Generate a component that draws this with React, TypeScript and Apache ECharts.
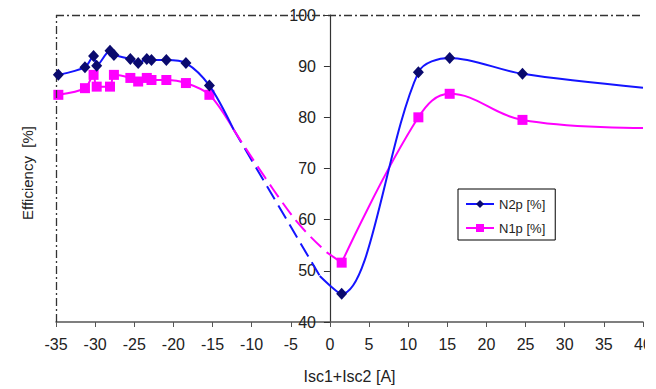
import React, { useEffect, useRef } from "react";
import * as echarts from "echarts";

// ---- Data ----
const leftX = [-34.7, -31.3, -30.2, -29.8, -28.1, -27.6, -25.5, -24.5, -23.4, -22.8, -20.9, -18.4, -15.4];
const n2pLeftY = [88.3, 89.8, 92.0, 90.1, 93.0, 92.2, 91.4, 90.6, 91.4, 91.2, 91.2, 90.6, 86.2];
const n1pLeftY = [84.4, 85.7, 88.3, 86.0, 86.0, 88.3, 87.7, 87.0, 87.7, 87.3, 87.3, 86.7, 84.4];

// end of the solid left part (no marker)
const joinX = -12.3;
const joinY = 77.6;

// dashed extrapolated part (no markers)
const n2pDashX = [-12.3, -1.3];
const n2pDashY = [77.6, 49.0];
const n1pDashX = [-12.3, -4.7, -0.4];
const n1pDashY = [77.6, 60.5, 53.6];

// right measured part
const rightX = [1.5, 11.3, 15.3, 24.6];
const n2pRightY = [45.5, 88.8, 91.6, 88.5];
const n1pRightY = [51.6, 80.0, 84.6, 79.5];

// curve value at the right border (no marker)
const endX = 40;
const n2pEndY = 85.8;
const n1pEndY = 77.9;

const xTicksMin = -35;
const xTicksMax = 40;
const yMin = 40;
const yMax = 100;

const N2P = "N2p [%]";
const N1P = "N1p [%]";

const FONT = "'Liberation Sans', Arial, Helvetica, sans-serif";

const GRID_LEFT = 56;
const GRID_WIDTH = 587;

function zip(xs: number[], ys: number[]) {
  return xs.map((x, i) => [x, ys[i]]);
}
function hidden(x: number, y: number) {
  return { value: [x, y], symbol: "none" };
}
function last(a: number[]) {
  return a[a.length - 1];
}

export default function App() {
  const ref = useRef<HTMLDivElement>(null);

  useEffect(() => {
    if (!ref.current) return;
    const chart = echarts.init(ref.current, null, { renderer: "svg" });

    const blueLine = { color: "#1414ff", width: 2 };
    const pinkLine = { color: "#ff00ff", width: 2 };
    const blueItem = { color: "#0a0a6e" };
    const pinkItem = { color: "#ff00ff" };

    // y axis sits at x = 0 of the value axis
    const yAxisOffset = -((0 - xTicksMin) / (xTicksMax - xTicksMin)) * GRID_WIDTH;

    const option: any = {
      animation: false,
      backgroundColor: "#ffffff",
      textStyle: { fontFamily: FONT },
      grid: { left: GRID_LEFT, top: 15, width: GRID_WIDTH, height: 308 },
      xAxis: {
        type: "value",
        min: xTicksMin,
        max: xTicksMax,
        interval: 5,
        axisLine: { onZero: false, lineStyle: { color: "#555", width: 1.5 } },
        axisTick: { show: true, length: 5, lineStyle: { color: "#555" } },
        axisLabel: { fontSize: 16, color: "#222", margin: 14, fontFamily: FONT },
        splitLine: { show: false },
        name: "Isc1+Isc2 [A]",
        nameLocation: "middle",
        nameGap: 46,
        nameTextStyle: { fontSize: 16, color: "#222", fontFamily: FONT },
      },
      yAxis: {
        type: "value",
        position: "left",
        offset: yAxisOffset,
        min: yMin,
        max: yMax,
        interval: 10,
        axisLine: { show: true, onZero: false, lineStyle: { color: "#333", width: 1.2 } },
        axisTick: { show: true, inside: false, length: 6, lineStyle: { color: "#333" } },
        axisLabel: { fontSize: 16, color: "#222", margin: 14, fontFamily: FONT },
        splitLine: { show: false },
      },
      legend: {
        data: [N2P, N1P],
        orient: "vertical",
        left: 458,
        top: 189,
        padding: [8, 10, 5, 7],
        itemGap: 10,
        itemWidth: 28,
        itemHeight: 10,
        itemTextGap: 3,
        borderColor: "#000",
        borderWidth: 1,
        backgroundColor: "#fff",
        textStyle: { fontSize: 13, color: "#222", lineHeight: 14, fontFamily: FONT },
      },
      graphic: [
        {
          type: "text",
          x: 27,
          y: 173,
          rotation: Math.PI / 2,
          style: {
            text: "Efficiency  [%]",
            fontSize: 15,
            fill: "#222",
            fontFamily: FONT,
            align: "center",
            verticalAlign: "middle",
          },
        },
      ],
      series: [
        {
          name: N2P,
          type: "line",
          smooth: 0.3,
          symbol: "diamond",
          symbolSize: [11, 12],
          lineStyle: blueLine,
          itemStyle: blueItem,
          z: 5,
          data: [...zip(leftX, n2pLeftY), hidden(joinX, joinY)],
          markLine: {
            silent: true,
            symbol: ["none", "none"],
            label: { show: false },
            lineStyle: { color: "#333", type: [8, 3, 2, 3], width: 1.3 },
            data: [{ xAxis: xTicksMin }, { yAxis: yMax }],
          },
        },
        {
          name: N2P,
          type: "line",
          smooth: 0.3,
          showSymbol: false,
          symbol: "none",
          lineStyle: { ...blueLine, type: [15, 7] },
          itemStyle: blueItem,
          data: zip(n2pDashX, n2pDashY),
        },
        {
          name: N2P,
          type: "line",
          smooth: 0.33,
          symbol: "diamond",
          symbolSize: [11, 12],
          lineStyle: blueLine,
          itemStyle: blueItem,
          z: 5,
          data: [hidden(last(n2pDashX), last(n2pDashY)), ...zip(rightX, n2pRightY), hidden(endX, n2pEndY)],
        },
        {
          name: N1P,
          type: "line",
          smooth: 0.3,
          symbol: "rect",
          symbolSize: 10,
          lineStyle: pinkLine,
          itemStyle: pinkItem,
          z: 4,
          data: [...zip(leftX, n1pLeftY), hidden(joinX, joinY)],
        },
        {
          name: N1P,
          type: "line",
          smooth: 0.4,
          showSymbol: false,
          symbol: "none",
          lineStyle: { ...pinkLine, type: [15, 7] },
          itemStyle: pinkItem,
          data: zip(n1pDashX, n1pDashY),
        },
        {
          name: N1P,
          type: "line",
          showSymbol: false,
          symbol: "none",
          lineStyle: pinkLine,
          itemStyle: pinkItem,
          z: 3,
          data: [[last(n1pDashX), last(n1pDashY)], [rightX[0], n1pRightY[0]]],
        },
        {
          name: N1P,
          type: "line",
          smooth: 0.4,
          symbol: "rect",
          symbolSize: 10,
          lineStyle: pinkLine,
          itemStyle: pinkItem,
          z: 4,
          data: [...zip(rightX, n1pRightY), hidden(endX, n1pEndY)],
        },
      ],
    };

    chart.setOption(option);
    return () => chart.dispose();
  }, []);

  return (
    <div
      style={{
        position: "fixed",
        left: 0,
        top: 0,
        width: 645,
        height: 389,
        overflow: "hidden",
        background: "#fff",
      }}
    >
      <div ref={ref} style={{ width: 700, height: 389 }} />
    </div>
  );
}
